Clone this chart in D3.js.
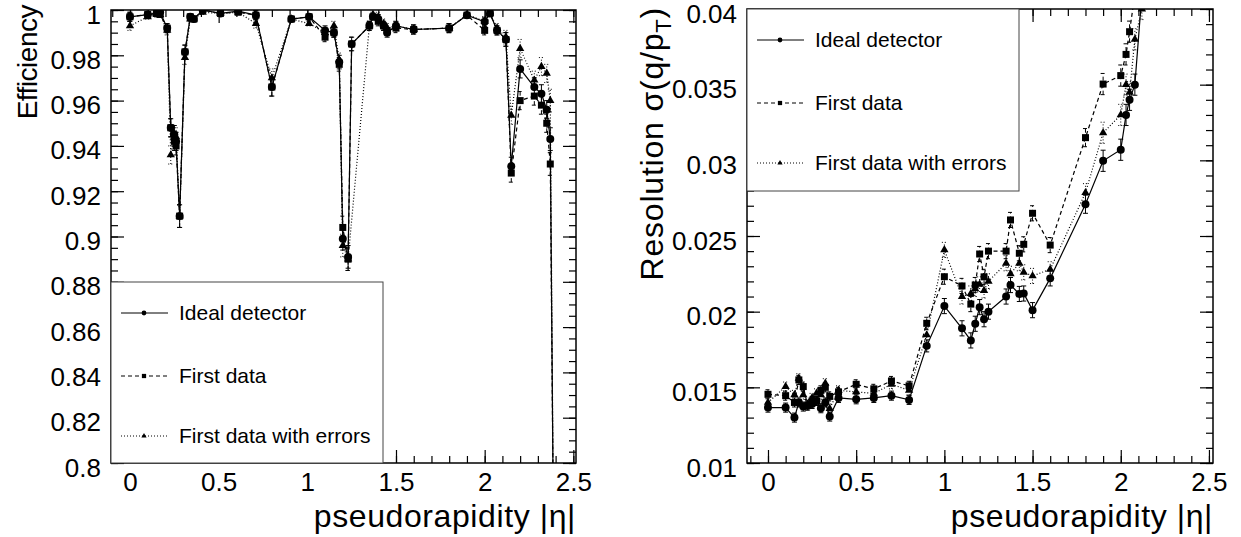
<!DOCTYPE html>
<html>
<head>
<meta charset="utf-8">
<script src="https://cdn.jsdelivr.net/npm/d3@7"></script>
<style>
body { margin: 0; background: #fff; }
svg text { font-family: "Liberation Sans", Arial, sans-serif; fill: #000; }
</style>
</head>
<body>
<div id="chart"></div>
<script>
// ---- efficiency vs |eta| ----
const etaEff = [0.00, 0.10, 0.15, 0.17, 0.21, 0.23, 0.25, 0.26, 0.28, 0.31, 0.34, 0.36, 0.41, 0.51, 0.61, 0.71, 0.80, 0.91,
                1.01, 1.10, 1.15, 1.18, 1.20, 1.23, 1.25, 1.35, 1.37, 1.40, 1.43, 1.45, 1.50, 1.60, 1.80, 1.90, 2.00, 2.03,
                2.07, 2.12, 2.15, 2.20, 2.28, 2.32, 2.35, 2.37, 2.39];
const effIdeal = [0.997, 0.998, 0.9985, 0.999, 0.992, 0.948, 0.945, 0.942, 0.909, 0.9815, 0.997, 0.996, 1.0, 0.9985, 0.9995, 0.9977, 0.966, 0.996,
                  0.997, 0.991, 0.990, 0.977, 0.899, 0.891, 0.985, 0.993, 0.997, 0.996, 0.993, 0.990, 0.993, 0.9914, 0.992, 0.9977, 0.9948, 0.9985,
                  0.991, 0.987, 0.931, 0.974, 0.966, 0.963, 0.956, 0.943, 0.75];
const effFirst = [0.997, 0.998, 0.9985, 0.998, 0.992, 0.948, 0.942, 0.940, 0.909, 0.9815, 0.997, 0.996, 1.0, 0.9985, 0.999, 0.9977, 0.966, 0.996,
                  0.997, 0.988, 0.990, 0.976, 0.904, 0.890, 0.985, 0.993, 0.997, 0.995, 0.993, 0.991, 0.992, 0.9914, 0.992, 0.9977, 0.991, 0.9985,
                  0.991, 0.987, 0.928, 0.960, 0.962, 0.958, 0.950, 0.932, 0.75];
const effFirstErr = [0.993, 0.997, 0.998, 0.998, 0.991, 0.936, 0.944, 0.944, 0.909, 0.979, 0.996, 0.996, 0.999, 0.9985, 0.999, 0.994, 0.970, 0.996,
                     0.994, 0.990, 0.993, 0.978, 0.896, 0.890, null, 0.993, 0.998, 0.997, 0.994, 0.992, 0.993, 0.9914, 0.992, 0.998, 0.995, 0.9985,
                     0.992, 0.988, 0.9535, 0.983, 0.969, 0.975, 0.972, 0.960, 0.75];
const effUnc = [0.002, 0.001, 0.001, 0.001, 0.002, 0.004, 0.004, 0.004, 0.005, 0.003, 0.001, 0.001, 0.001, 0.001, 0.001, 0.002, 0.004, 0.001,
                0.001, 0.002, 0.002, 0.003, 0.005, 0.005, 0.003, 0.002, 0.001, 0.002, 0.002, 0.002, 0.002, 0.002, 0.002, 0.001, 0.002, 0.001,
                0.002, 0.003, 0.004, 0.004, 0.004, 0.004, 0.004, 0.005, 0.005];

// ---- resolution vs |eta| ----
const etaRes = [0.00, 0.10, 0.15, 0.175, 0.20, 0.225, 0.25, 0.275, 0.30, 0.325, 0.35, 0.40, 0.50, 0.60, 0.70, 0.80, 0.90,
                1.00, 1.10, 1.15, 1.175, 1.20, 1.225, 1.25, 1.35, 1.375, 1.425, 1.45, 1.50, 1.60, 1.80, 1.90, 2.00, 2.03, 2.05, 2.08, 2.12];
const resIdeal = [0.01366, 0.01366, 0.0130, 0.0140, 0.01373, 0.0138, 0.0139, 0.0141, 0.01362, 0.0140, 0.01307, 0.0143, 0.01421, 0.0143, 0.01445, 0.01417, 0.01774,
                  0.02037, 0.0189, 0.0181, 0.0192, 0.0203, 0.0195, 0.0200, 0.0210, 0.02176, 0.02117, 0.0212, 0.0201, 0.0222, 0.0271, 0.02997, 0.0307, 0.0330, 0.0340, 0.0350, 0.0410];
const resFirst = [0.01454, 0.01445, 0.0140, 0.01549, 0.01505, 0.0138, 0.0141, 0.0141, 0.0148, 0.0150, 0.0144, 0.0147, 0.0152, 0.0149, 0.01542, 0.0151, 0.01923,
                  0.02231, 0.0217, 0.0205, 0.02176, 0.02381, 0.0223, 0.0240, 0.0240, 0.02606, 0.02386, 0.02445, 0.0265, 0.0244, 0.0315, 0.03504, 0.0356, 0.0370, 0.0385, 0.0410, 0.0420];
const resFirstErr = [0.0140, 0.01505, 0.0145, 0.0156, 0.0145, 0.0139, 0.0143, 0.0146, 0.0145, 0.01527, 0.0136, 0.0148, 0.0147, 0.0146, 0.0152, 0.0148, 0.01846,
                     0.02408, 0.0210, 0.0212, 0.0215, 0.0218, 0.0214, 0.0220, 0.0232, 0.0225, 0.0232, 0.0226, 0.02236, 0.0228, 0.02786, 0.03182, 0.0330, 0.0350, 0.0345, 0.0380, 0.0400];
const resUnc = [0.0003, 0.0003, 0.0003, 0.0003, 0.0003, 0.0003, 0.0003, 0.0003, 0.0003, 0.0003, 0.0003, 0.0003, 0.0003, 0.0003, 0.0003, 0.0003, 0.0004,
                0.0005, 0.0005, 0.0005, 0.0005, 0.0005, 0.0005, 0.0005, 0.0005, 0.0005, 0.0005, 0.0005, 0.0005, 0.0005, 0.0006, 0.0007, 0.0007, 0.0007, 0.0007, 0.0007, 0.0007];

const etaTicks = [0, 0.5, 1, 1.5, 2, 2.5];
const effTicks = [0.8, 0.82, 0.84, 0.86, 0.88, 0.9, 0.92, 0.94, 0.96, 0.98, 1];
const resTicks = [0.01, 0.015, 0.02, 0.025, 0.03, 0.035, 0.04];
const seriesNames = ["Ideal detector", "First data", "First data with errors"];

const width = 1241, height = 537;
const svg = d3.select("#chart").append("svg")
    .attr("width", width)
    .attr("height", height);

svg.append("rect").attr("width", width).attr("height", height).attr("fill", "#fff");

// style of each series: solid/circle, dashed/square, dotted/triangle
const styles = [
    {dash: null, symbol: d3.symbolCircle, size: 50, lsize: 18},
    {dash: "4,3", symbol: d3.symbolSquare, size: 49, lsize: 18},
    {dash: "1,2", symbol: d3.symbolTriangle, size: 30, lsize: 12}
];

function drawPanel(p, id) {
    const x = d3.scaleLinear().domain(p.xDomain).range([p.left, p.right]);
    const y = d3.scaleLinear().domain(p.yDomain).range([p.bottom, p.top]);

    svg.append("clipPath").attr("id", "clip" + id)
        .append("rect")
        .attr("x", p.left).attr("y", p.top)
        .attr("width", p.right - p.left).attr("height", p.bottom - p.top);

    const plot = svg.append("g").attr("clip-path", "url(#clip" + id + ")");

    p.series.forEach(function(vals, k) {
        const st = styles[k];
        const pts = p.eta.map((e, i) => ({e: e, v: vals[i], u: p.unc[i]}))
                         .filter(d => d.v != null);
        const line = d3.line().x(d => x(d.e)).y(d => y(d.v));

        plot.append("path")
            .attr("d", line(pts))
            .attr("fill", "none")
            .attr("stroke", "#000")
            .attr("stroke-width", 1.2)
            .attr("stroke-dasharray", st.dash);

        // error bars
        const eb = plot.append("g")
            .attr("stroke", "#000")
            .attr("stroke-width", 1)
            .attr("stroke-dasharray", st.dash);
        eb.selectAll("line.v").data(pts).enter().append("line")
            .attr("x1", d => x(d.e)).attr("x2", d => x(d.e))
            .attr("y1", d => y(d.v - d.u)).attr("y2", d => y(d.v + d.u));
        eb.selectAll("line.lo").data(pts).enter().append("line")
            .attr("x1", d => x(d.e) - 2.5).attr("x2", d => x(d.e) + 2.5)
            .attr("y1", d => y(d.v - d.u)).attr("y2", d => y(d.v - d.u))
            .attr("stroke-dasharray", null);
        eb.selectAll("line.hi").data(pts).enter().append("line")
            .attr("x1", d => x(d.e) - 2.5).attr("x2", d => x(d.e) + 2.5)
            .attr("y1", d => y(d.v + d.u)).attr("y2", d => y(d.v + d.u))
            .attr("stroke-dasharray", null);

        plot.append("g").selectAll("path").data(pts).enter().append("path")
            .attr("d", d3.symbol().type(st.symbol).size(st.size))
            .attr("transform", d => "translate(" + x(d.e) + "," + y(d.v) + ")")
            .attr("fill", "#000");
    });

    // axes (ticks point inward, ROOT style)
    const xMinor = d3.range(-0.1, 2.55, 0.1).map(v => +v.toFixed(2));
    const yMinor = d3.range(p.yDomain[0], p.yDomain[1] + p.yMinorStep / 2, p.yMinorStep).map(v => +v.toFixed(4));
    const fmt = d3.format("~g");

    function styleAxis(g) {
        g.select(".domain").remove();
        g.selectAll("line").attr("stroke", "#000").attr("stroke-width", 1.2);
        g.selectAll("text").attr("font-size", 26).attr("font-family", "Liberation Sans, Arial, sans-serif");
    }

    svg.append("g").attr("transform", "translate(0," + p.bottom + ")")
        .call(d3.axisBottom(x).tickValues(etaTicks).tickSize(-13).tickPadding(10).tickFormat(fmt))
        .call(styleAxis);
    svg.append("g").attr("transform", "translate(0," + p.bottom + ")")
        .call(d3.axisBottom(x).tickValues(xMinor).tickSize(-7).tickFormat(""))
        .call(styleAxis);
    svg.append("g").attr("transform", "translate(0," + p.top + ")")
        .call(d3.axisTop(x).tickValues(etaTicks).tickSize(-13).tickFormat(""))
        .call(styleAxis);
    svg.append("g").attr("transform", "translate(0," + p.top + ")")
        .call(d3.axisTop(x).tickValues(xMinor).tickSize(-7).tickFormat(""))
        .call(styleAxis);

    svg.append("g").attr("transform", "translate(" + p.left + ",0)")
        .call(d3.axisLeft(y).tickValues(p.yTicks).tickSize(-13).tickPadding(10).tickFormat(fmt))
        .call(styleAxis)
        .call(g => g.selectAll("text").attr("dy", "0.5em"));
    svg.append("g").attr("transform", "translate(" + p.left + ",0)")
        .call(d3.axisLeft(y).tickValues(yMinor).tickSize(-7).tickFormat(""))
        .call(styleAxis);
    svg.append("g").attr("transform", "translate(" + p.right + ",0)")
        .call(d3.axisRight(y).tickValues(p.yTicks).tickSize(-13).tickFormat(""))
        .call(styleAxis);
    svg.append("g").attr("transform", "translate(" + p.right + ",0)")
        .call(d3.axisRight(y).tickValues(yMinor).tickSize(-7).tickFormat(""))
        .call(styleAxis);

    // frame
    svg.append("rect")
        .attr("x", p.left).attr("y", p.top)
        .attr("width", p.right - p.left).attr("height", p.bottom - p.top)
        .attr("fill", "none").attr("stroke", "#000").attr("stroke-width", 1.5);

    // legend
    const lg = svg.append("g").attr("transform", "translate(" + p.legend.x + "," + p.legend.y + ")");
    lg.append("rect")
        .attr("width", p.legend.w).attr("height", p.legend.h)
        .attr("fill", "#fff").attr("stroke", "#444").attr("stroke-width", 1);
    seriesNames.forEach(function(name, k) {
        const st = styles[k];
        const cy = [31, 94, 154][k];
        lg.append("line")
            .attr("x1", 10).attr("x2", 57).attr("y1", cy).attr("y2", cy)
            .attr("stroke", "#000").attr("stroke-width", 1)
            .attr("stroke-dasharray", st.dash);
        lg.append("path")
            .attr("d", d3.symbol().type(st.symbol).size(st.lsize))
            .attr("transform", "translate(33," + cy + ")");
        lg.append("text")
            .attr("x", 68).attr("y", cy).attr("dy", "0.35em")
            .attr("font-size", 21)
            .text(name);
    });

    // axis titles
    svg.append("text")
        .attr("x", p.right).attr("y", 527)
        .attr("text-anchor", "end")
        .attr("font-size", 32)
        .attr("letter-spacing", 0.6)
        .text("pseudorapidity |\u03B7|");

    const yt = svg.append("text")
        .attr("transform", "translate(" + p.yTitleX + "," + p.yTitleY + ") rotate(-90)")
        .attr("text-anchor", "end")
        .attr("font-size", p.yTitleSize);
    p.yTitle(yt);
}

drawPanel({
    left: 111, right: 576, top: 10, bottom: 463,
    xDomain: [-0.107, 2.515], yDomain: [0.8, 1],
    yTicks: effTicks, yMinorStep: 0.005,
    eta: etaEff, unc: effUnc, series: [effIdeal, effFirst, effFirstErr],
    legend: {x: 111, y: 282, w: 272, h: 181},
    yTitleX: 37, yTitleY: 5, yTitleSize: 28,
    yTitle: t => t.attr("letter-spacing", -0.5).text("Efficiency")
}, "L");

drawPanel({
    left: 747, right: 1213, top: 9, bottom: 463,
    xDomain: [-0.119, 2.523], yDomain: [0.01, 0.04],
    yTicks: resTicks, yMinorStep: 0.001,
    eta: etaRes, unc: resUnc, series: [resIdeal, resFirst, resFirstErr],
    legend: {x: 747, y: 9, w: 272, h: 182},
    yTitleX: 663, yTitleY: 7, yTitleSize: 32,
    yTitle: function(t) {
        t.attr("letter-spacing", 0.8);
        t.append("tspan").text("Resolution \u03C3(q/p");
        t.append("tspan").attr("font-size", 22).attr("dy", 8).text("T");
        t.append("tspan").attr("dy", -8).text(")");
    }
}, "R");
</script>
</body>
</html>
